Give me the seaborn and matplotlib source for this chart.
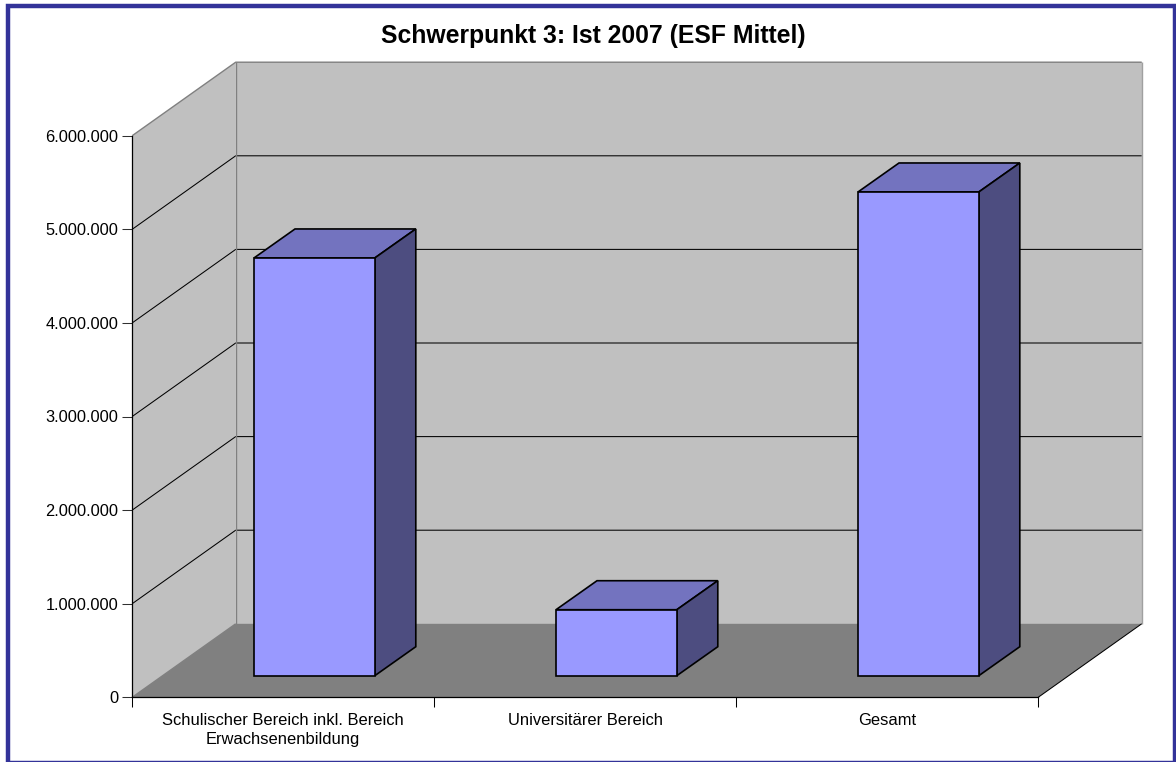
import matplotlib
matplotlib.use("Agg")
import matplotlib.pyplot as plt
from matplotlib.patches import Polygon, Rectangle
from matplotlib.ticker import FuncFormatter
import pandas as pd
import seaborn as sns

TITLE = "Schwerpunkt 3: Ist 2007 (ESF Mittel)"
categories = ["Schulischer Bereich inkl. Bereich\nErwachsenenbildung", "Universitärer Bereich", "Gesamt"]
ist_2007 = [4463000, 705000, 5168000]
y_ticks = [0, 1000000, 2000000, 3000000, 4000000, 5000000, 6000000]

W, H = 1176, 762
# plot area in pixels
LEFT, RIGHT, BASE, TOP = 132.2, 1038.2, 697.3, 135.7
PX_X = 3 / (RIGHT - LEFT)
PX_Y = 6000000 / (BASE - TOP)

# 3d look, sheared depth in data units
WALL_DX, WALL_DY = 103.5 * PX_X, 73.5 * PX_Y
GAP_DX, GAP_DY = 31.2 * PX_X, 21.6 * PX_Y
BAR_DX, BAR_DY = 41 * PX_X, 29 * PX_Y

WALL = "#C0C0C0"
FLOOR = "#808080"
FACE = "#9999FF"
BAR_TOP = "#7373BF"
BAR_SIDE = "#4D4D80"
BORDER = "#333399"


def poly(ax, pts, fc, ec="none", lw=0, z=1):
    ax.add_patch(Polygon(pts, closed=True, facecolor=fc, edgecolor=ec, linewidth=lw,
                         zorder=z, clip_on=False, joinstyle="miter"))


def line(ax, xs, ys, color="black", lw=0.75, z=2):
    ax.plot(xs, ys, color=color, lw=lw, zorder=z, clip_on=False, solid_capstyle="butt")


def main():
    sns.set_theme(style="white")
    plt.rcParams["font.family"] = ["Liberation Sans", "DejaVu Sans"]

    fig = plt.figure(figsize=(W / 100, H / 100), dpi=100, facecolor="white")
    ax = fig.add_axes([LEFT / W, 1 - BASE / H, (RIGHT - LEFT) / W, (BASE - TOP) / H])
    ax.patch.set_visible(False)

    df = pd.DataFrame({"bereich": categories, "ist": ist_2007})
    sns.barplot(data=df, x="bereich", y="ist", width=0.4, color=FACE, saturation=1,
                edgecolor="black", linewidth=1.2, ax=ax, zorder=6)
    ax.set_xlim(-0.5, 2.5)
    ax.set_ylim(0, 6000000)

    x0, x1 = -0.5, 2.5
    y1 = y_ticks[-1]

    # walls and floor
    poly(ax, [(x0, 0), (x0 + WALL_DX, WALL_DY), (x0 + WALL_DX, y1 + WALL_DY), (x0, y1)], WALL)
    poly(ax, [(x0 + WALL_DX, WALL_DY), (x1 + WALL_DX, WALL_DY),
              (x1 + WALL_DX, y1 + WALL_DY), (x0 + WALL_DX, y1 + WALL_DY)], WALL)
    poly(ax, [(x0, 0), (x1, 0), (x1 + WALL_DX, WALL_DY), (x0 + WALL_DX, WALL_DY)], FLOOR)

    for t in y_ticks[1:-1]:
        line(ax, [x0, x0 + WALL_DX, x1 + WALL_DX], [t, t + WALL_DY, t + WALL_DY])

    # grey wall edges
    line(ax, [x0 + WALL_DX, x0 + WALL_DX], [WALL_DY, y1 + WALL_DY], color=FLOOR, lw=1.0, z=3)
    line(ax, [x0, x0 + WALL_DX, x1 + WALL_DX], [y1, y1 + WALL_DY, y1 + WALL_DY], color=FLOOR, lw=1.0, z=3)
    line(ax, [x1 + WALL_DX, x1 + WALL_DX], [WALL_DY, y1 + WALL_DY], color="#A0A0A0", lw=1.0, z=3)
    line(ax, [x0, x0 + WALL_DX], [0, WALL_DY], color=FLOOR, lw=1.0, z=3)
    line(ax, [x1, x1 + WALL_DX], [0, WALL_DY], z=3)

    # bars: move the front faces off the front plane, then add top and side
    for p in ax.patches:
        if p.get_facecolor()[:3] != matplotlib.colors.to_rgb(FACE):
            continue
        p.set_x(p.get_x() + GAP_DX)
        p.set_y(GAP_DY)
        p.set_clip_on(False)
        bx0, bx1 = p.get_x(), p.get_x() + p.get_width()
        by0, by1 = GAP_DY, GAP_DY + p.get_height()
        poly(ax, [(bx0, by1), (bx1, by1), (bx1 + BAR_DX, by1 + BAR_DY), (bx0 + BAR_DX, by1 + BAR_DY)],
             BAR_TOP, "black", 1.2, 5)
        poly(ax, [(bx1, by0), (bx1 + BAR_DX, by0 + BAR_DY), (bx1 + BAR_DX, by1 + BAR_DY), (bx1, by1)],
             BAR_SIDE, "black", 1.2, 5)

    # axes
    for s in ["top", "right"]:
        ax.spines[s].set_visible(False)
    for s in ["left", "bottom"]:
        ax.spines[s].set_visible(True)
        ax.spines[s].set_color("black")
        ax.spines[s].set_linewidth(0.9)
        ax.spines[s].set_zorder(4)

    ax.set_xlabel("")
    ax.set_ylabel("")
    ax.set_yticks(y_ticks)
    ax.yaxis.set_major_formatter(FuncFormatter(lambda v, _: f"{int(v):,}".replace(",", ".")))
    ax.tick_params(axis="y", left=True, length=7.2, width=0.75, color="#303030", pad=2.6,
                   labelsize=11.8, labelcolor="black")
    ax.set_xticks([0, 1, 2], categories)
    ax.set_xticks([-0.5, 0.5, 1.5, 2.5], minor=True)
    ax.tick_params(axis="x", which="major", bottom=False, length=0, pad=11, labelsize=11.9, labelcolor="black")
    ax.tick_params(axis="x", which="minor", bottom=True, length=7.2, width=0.75, color="black")
    for lab in ax.get_xticklabels():
        lab.set_linespacing(1.37)

    fig.text(593 / W, 1 - 36 / H, TITLE, ha="center", va="center", fontsize=17.8, fontweight="bold", color="black")

    fig.add_artist(Rectangle((8.2 / W, 1 - 762.8 / H), (1175.2 - 8.2) / W, (762.8 - 6.2) / H,
                             transform=fig.transFigure, fill=False, edgecolor=BORDER,
                             linewidth=3.2, joinstyle="miter"))

    fig.savefig("out.png", dpi=100, facecolor="white")


if __name__ == "__main__":
    main()
